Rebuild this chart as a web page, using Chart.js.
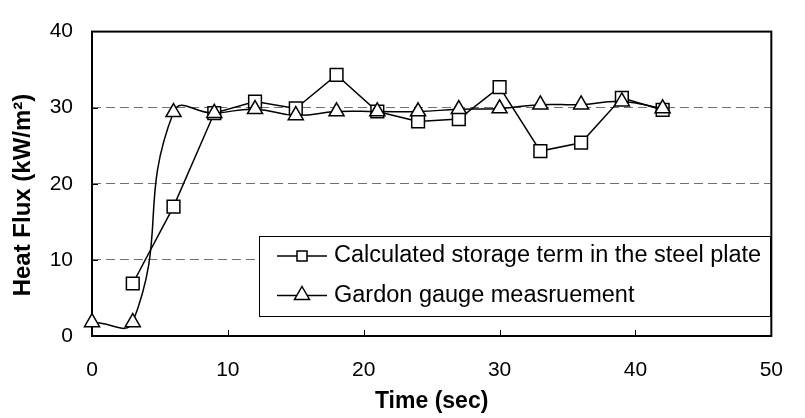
<!DOCTYPE html>
<html>
<head>
<meta charset="utf-8">
<script src="https://cdn.jsdelivr.net/npm/chart.js@4.4.0/dist/chart.umd.min.js"></script>
<style>
    body { margin: 0; background: #fff; }
    #wrap { width: 805px; height: 418px; }
</style>
</head>
<body>
<div id="wrap"><canvas id="fluxChart"></canvas></div>
<script>
const timeSec = [0, 3, 6, 9, 12, 15, 18, 21, 24, 27, 30, 33, 36, 39, 42];
const storageFlux = [null, 6.9, 17.0, 29.3, 30.8, 29.9, 34.3, 29.5, 28.2, 28.5, 32.7, 24.3, 25.4, 31.3, 29.7];
const gardonFlux = [1.8, 1.8, 29.4, 29.3, 29.8, 29.0, 29.5, 29.5, 29.5, 29.8, 29.9, 30.4, 30.4, 30.8, 29.9];
const xTicks = [0, 10, 20, 30, 40, 50];
const yTicks = [0, 10, 20, 30, 40];
const seriesNames = ["Calculated storage term in the steel plate", "Gardon gauge measruement"];

const FONT = "'Liberation Sans', Arial, sans-serif";
Chart.defaults.font.family = FONT;

function toPoints(values) {
    return timeSec.map((t, i) => ({ x: t, y: values[i] })).filter((p) => p.y !== null);
}

// box, inward ticks and y title sit under the data
const frame = {
    id: "frame",
    beforeDatasetsDraw(chart) {
        const { ctx, chartArea: a, scales } = chart;
        ctx.save();
        ctx.strokeStyle = "#000";
        ctx.lineWidth = 1;
        ctx.beginPath();
        xTicks.slice(1, -1).forEach((v) => {
            const px = Math.round(scales.x.getPixelForValue(v)) + 0.5;
            ctx.moveTo(px, a.bottom);
            ctx.lineTo(px, a.bottom - 6);
        });
        yTicks.slice(1, -1).forEach((v) => {
            const py = Math.round(scales.y.getPixelForValue(v)) + 0.5;
            ctx.moveTo(a.left, py);
            ctx.lineTo(a.left + 6, py);
        });
        ctx.stroke();
        ctx.lineWidth = 2;
        ctx.strokeRect(a.left, a.top, a.right - a.left, a.bottom - a.top);

        ctx.translate(23, 195);
        ctx.rotate(-Math.PI / 2);
        ctx.fillStyle = "#000";
        ctx.font = "bold 24px " + FONT;
        ctx.textAlign = "center";
        ctx.textBaseline = "middle";
        ctx.fillText("Heat Flux (kW/m²)", 0, 0);
        ctx.restore();
    },
};

// legend box inside the plot
const boxLegend = {
    id: "boxLegend",
    afterDatasetsDraw(chart) {
        const ctx = chart.ctx;
        const rows = [256, 295.5];
        ctx.save();
        ctx.fillStyle = "#fff";
        ctx.fillRect(259.5, 236.5, 511, 80);
        ctx.strokeStyle = "#000";
        ctx.lineWidth = 1;
        ctx.strokeRect(259.5, 236.5, 511, 80);

        chart.data.datasets.forEach((ds, i) => {
            const y = rows[i];
            ctx.lineWidth = 1.5;
            ctx.beginPath();
            ctx.moveTo(277, y);
            ctx.lineTo(327, y);
            ctx.stroke();
            ctx.fillStyle = "#fff";
            ctx.beginPath();
            if (ds.pointStyle === "rect") {
                ctx.rect(297, y - 5, 10, 10);
            } else {
                ctx.moveTo(302, y - 9);
                ctx.lineTo(309.5, y + 4);
                ctx.lineTo(294.5, y + 4);
                ctx.closePath();
            }
            ctx.fill();
            ctx.stroke();
            ctx.fillStyle = "#000";
            ctx.font = "23.5px " + FONT;
            ctx.textAlign = "left";
            ctx.textBaseline = "middle";
            ctx.fillText(ds.label, 334, y);
        });
        ctx.restore();
    },
};

new Chart(document.getElementById("fluxChart"), {
    type: "line",
    data: {
        datasets: [
            {
                label: seriesNames[0],
                data: toPoints(storageFlux),
                borderColor: "#000",
                borderWidth: 1.5,
                pointStyle: "rect",
                pointRadius: 9,
                pointBorderWidth: 1.5,
                pointBackgroundColor: "#fff",
                pointBorderColor: "#000",
                tension: 0,
                order: 1,
                clip: false,
            },
            {
                label: seriesNames[1],
                data: toPoints(gardonFlux),
                borderColor: "#000",
                borderWidth: 1.5,
                pointStyle: "triangle",
                pointRadius: 8.7,
                pointBorderWidth: 1.5,
                pointBackgroundColor: "#fff",
                pointBorderColor: "#000",
                tension: 0.5,
                order: 0,
                clip: false,
            },
        ],
    },
    options: {
        responsive: true,
        maintainAspectRatio: false,
        animation: false,
        layout: { padding: { top: 19, right: 16, left: 0, bottom: 0 } },
        plugins: {
            legend: { display: false },
            tooltip: { enabled: false },
        },
        scales: {
            x: {
                type: "linear",
                min: 0,
                max: 50,
                grid: { display: false, drawTicks: false },
                border: { display: false },
                ticks: { font: { size: 21 }, color: "#000", padding: 22 },
                afterBuildTicks: (s) => { s.ticks = xTicks.map((v) => ({ value: v })); },
                afterFit: (s) => { s.height = 82; },
                title: {
                    display: true,
                    text: "Time (sec)",
                    color: "#000",
                    font: { size: 23, weight: "bold" },
                    padding: { top: 0, bottom: 3 },
                },
            },
            y: {
                min: 0,
                max: 40,
                grid: {
                    drawTicks: false,
                    lineWidth: 1,
                    color: (c) => (yTicks.slice(1, -1).includes(c.tick.value) ? "#707070" : "rgba(0,0,0,0)"),
                },
                border: { display: false, dash: [9, 5] },
                ticks: { font: { size: 21 }, color: "#000", padding: 19 },
                afterBuildTicks: (s) => { s.ticks = yTicks.map((v) => ({ value: v })); },
                afterFit: (s) => { s.width = 92; },
            },
        },
    },
    plugins: [frame, boxLegend],
});
</script>
</body>
</html>
